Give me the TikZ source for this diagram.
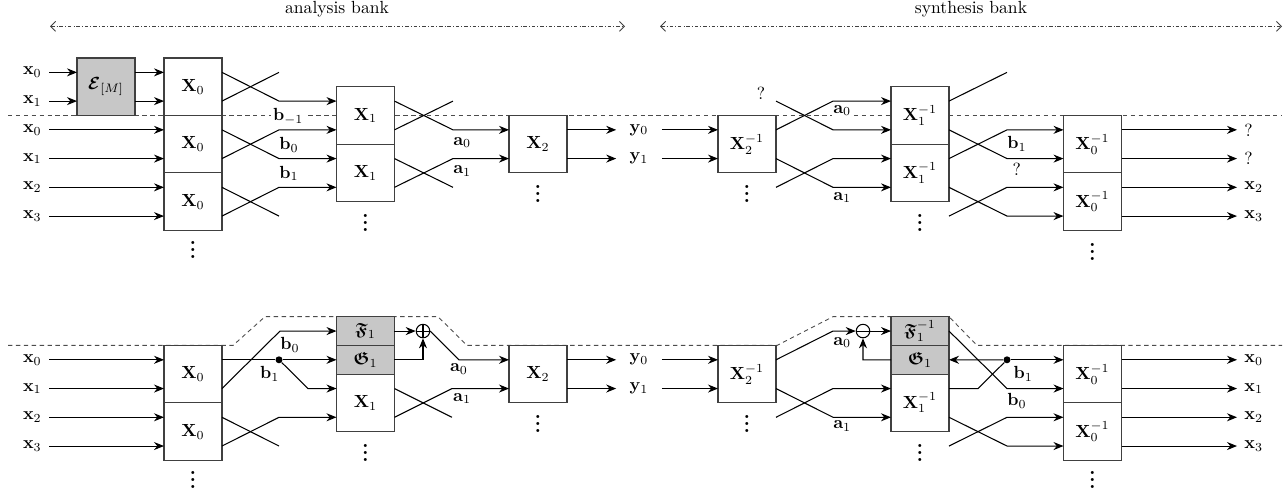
\documentclass[tikz,border=0pt]{standalone}
\usepackage{amsmath,amssymb,bm}
\usetikzlibrary{arrows.meta,positioning}
\tikzset{
  blk/.style={draw=black!75, fill=white, line width=0.6pt, minimum width=1.16cm,
              minimum height=1.15cm, inner sep=0pt, outer sep=0pt},
  gblk/.style={blk, fill=black!22},
  hblk/.style={gblk, minimum height=0.575cm},
  flow/.style={-{Stealth[length=2mm,width=1.6mm]}, line width=0.6pt},
  wire/.style={line width=0.6pt},
  io/.style={inner xsep=4pt, inner ysep=1pt},
  yio/.style={inner xsep=7.5pt, inner ysep=1pt},
  tag/.style={fill=white, inner sep=1pt},
  more/.style={inner sep=0pt, font=\large\bfseries},
  splitdot/.style={circle, fill, minimum size=0.14cm, inner sep=0pt},
  addn/.style={circle, draw, line width=0.6pt, fill=white, minimum size=0.27cm, inner sep=0pt,
               path picture={\draw[line width=0.6pt] (path picture bounding box.north) -- (path picture bounding box.south)
                             (path picture bounding box.west) -- (path picture bounding box.east);}},
  subn/.style={circle, draw, line width=0.6pt, fill=white, minimum size=0.27cm, inner sep=0pt,
               path picture={\draw[line width=0.6pt] (path picture bounding box.west) -- (path picture bounding box.east);}},
  sepline/.style={line width=0.5pt, black!70, dash pattern=on 2.5pt off 2pt},
  bank/.style={{Straight Barb[length=1mm,width=2mm]}-{Straight Barb[length=1mm,width=2mm]}, line width=0.5pt,
               black!75, dash pattern=on 2pt off 1.2pt on 0.4pt off 1.2pt},
}
\begin{document}
\begin{tikzpicture}[x=0.02cm, y=-0.575cm]
  \useasboundingbox (0,-2.5174) rectangle (1288,14.7696);

  % headers
  \node (ana) at (337,-2.18) {analysis bank};
  \node (syn) at (971,-2.18) {synthesis bank};
  \coordinate (ha0) at (50,-1.6); \coordinate (ha1) at (625,-1.6);
  \coordinate (hs0) at (660,-1.6); \coordinate (hs1) at (1282,-1.6);
  \draw[bank] (ha0) -- (ha1);
  \draw[bank] (hs0) -- (hs1);

  % block boundaries
  \draw[sepline] (8,1.5) -- (1282,1.5);
  \draw[sepline] (8,9.5) -- (233,9.5) -- (265,8.5) -- (438,8.5) -- (467,9.5) -- (777,9.5)
                 -- (833,8.5) -- (949,8.5) -- (977,9.5) -- (1282,9.5);

  % ---- analysis, plain ----
  \node[gblk] (enc) at (106,0.5) {$\bm{\mathcal{E}}_{[M]}$};
  \node[blk] (ta0) at (193,0.5) {$\mathbf{X}_0$};
  \node[blk, below=0pt of ta0] (ta1) {$\mathbf{X}_0$};
  \node[blk, below=0pt of ta1] (ta2) {$\mathbf{X}_0$};
  \node[blk] (tb0) at (365.5,1.5) {$\mathbf{X}_1$};
  \node[blk, below=0pt of tb0] (tb1) {$\mathbf{X}_1$};
  \node[blk] (tc0) at (538,2.5) {$\mathbf{X}_2$};
  \node[more, below=0pt of ta2] (dta) {\vdots};
  \node[more, below=1pt of tb1] (dtb) {\vdots};
  \node[more, below=1pt of tc0] (dtc) {\vdots};

  \node[io, anchor=east] (ie0) at (49,0) {$\mathbf{x}_0$};
  \node[io, anchor=east] (ie1) at (49,1) {$\mathbf{x}_1$};
  \node[io, anchor=east] (ix0) at (49,2) {$\mathbf{x}_0$};
  \node[io, anchor=east] (ix1) at (49,3) {$\mathbf{x}_1$};
  \node[io, anchor=east] (ix2) at (49,4) {$\mathbf{x}_2$};
  \node[io, anchor=east] (ix3) at (49,5) {$\mathbf{x}_3$};
  \node[yio] (oy0) at (639,2) {$\mathbf{y}_0$};
  \node[yio] (oy1) at (639,3) {$\mathbf{y}_1$};

  \draw[flow] (ie0) -- (enc.west |- ie0);
  \draw[flow] (ie1) -- (enc.west |- ie1);
  \draw[flow] (enc.east |- ie0) -- (ta0.west |- ie0);
  \draw[flow] (enc.east |- ie1) -- (ta0.west |- ie1);
  \draw[flow] (ix0) -- (ta1.west |- ix0);
  \draw[flow] (ix1) -- (ta1.west |- ix1);
  \draw[flow] (ix2) -- (ta2.west |- ix2);
  \draw[flow] (ix3) -- (ta2.west |- ix3);

  \coordinate (u0) at (279,0); \coordinate (u1) at (279,1); \coordinate (u2) at (279,2);
  \coordinate (u3) at (279,3); \coordinate (u4) at (279,4); \coordinate (u5) at (279,5);
  \draw[flow] (ta0.east |- u0) -- (u1) -- (tb0.west |- u1);
  \draw[wire] (ta0.east |- u1) -- (u0);
  \draw[flow] (ta1.east |- u2) -- (u3) -- (tb1.west |- u3);
  \draw[flow] (ta1.east |- u3) -- (u2) -- (tb0.west |- u2);
  \draw[wire] (ta2.east |- u4) -- (u5);
  \draw[flow] (ta2.east |- u5) -- (u4) -- (tb1.west |- u4);
  \node[tag, below right=3pt and -4.5pt of u1] (lbm) {$\mathbf{b}_{-1}$};
  \node[tag, below right=3pt and -1pt of u2] (lb0) {$\mathbf{b}_0$};
  \node[tag, below right=3pt and -1pt of u3] (lb1) {$\mathbf{b}_1$};

  \coordinate (v1) at (453,1); \coordinate (v2) at (453,2);
  \coordinate (v3) at (453,3); \coordinate (v4) at (453,4);
  \draw[flow] (tb0.east |- v1) -- (v2) -- (tc0.west |- v2);
  \draw[wire] (tb0.east |- v2) -- (v1);
  \draw[wire] (tb1.east |- v3) -- (v4);
  \draw[flow] (tb1.east |- v4) -- (v3) -- (tc0.west |- v3);
  \node[tag, below right=3pt and -1pt of v2] (la0) {$\mathbf{a}_0$};
  \node[tag, below right=3pt and -1pt of v3] (la1) {$\mathbf{a}_1$};
  \draw[flow] (tc0.east |- oy0) -- (oy0);
  \draw[flow] (tc0.east |- oy1) -- (oy1);

  % ---- synthesis, plain ----
  \node[blk] (sa) at (747,2.5) {$\mathbf{X}_2^{-1}$};
  \node[blk] (sb0) at (920,1.5) {$\mathbf{X}_1^{-1}$};
  \node[blk, below=0pt of sb0] (sb1) {$\mathbf{X}_1^{-1}$};
  \node[blk] (sc0) at (1092.5,2.5) {$\mathbf{X}_0^{-1}$};
  \node[blk, below=0pt of sc0] (sc1) {$\mathbf{X}_0^{-1}$};
  \node[more, below=1pt of sa] (dsa) {\vdots};
  \node[more, below=1pt of sb1] (dsb) {\vdots};
  \node[more, below=1pt of sc1] (dsc) {\vdots};
  \node[io, anchor=west] (oq0) at (1237,2) {?};
  \node[io, anchor=west] (oq1) at (1237,3) {?};
  \node[io, anchor=west] (ox2) at (1237,4) {$\mathbf{x}_2$};
  \node[io, anchor=west] (ox3) at (1237,5) {$\mathbf{x}_3$};

  \draw[flow] (oy0) -- (sa.west |- oy0);
  \draw[flow] (oy1) -- (sa.west |- oy1);
  \coordinate (q1) at (776,1); \coordinate (q4) at (776,4);
  \coordinate (w1) at (833,1); \coordinate (w2) at (833,2);
  \coordinate (w3) at (833,3); \coordinate (w4) at (833,4);
  \draw[flow] (sa.east |- w2) -- (w1) -- (sb0.west |- w1);
  \draw[flow] (q1) -- (w2) -- (sb0.west |- w2);
  \draw[flow] (sa.east |- w3) -- (w4) -- (sb1.west |- w4);
  \draw[flow] (q4) -- (w3) -- (sb1.west |- w3);
  \node[tag, above left=-0.5pt and 5pt of q1] (lq) {?};
  \node[tag, below right=1.2pt and -1pt of w1] (ls0) {$\mathbf{a}_0$};
  \node[tag, below right=1.7pt and -1pt of w4] (ls1) {$\mathbf{a}_1$};

  \coordinate (r5) at (949,5);
  \coordinate (z0) at (1007,0); \coordinate (z2) at (1007,2); \coordinate (z3) at (1007,3);
  \coordinate (z4) at (1007,4); \coordinate (z5) at (1007,5);
  \draw[wire] (sb0.east |- w1) -- (z0);
  \draw[flow] (sb0.east |- w2) -- (z3) -- (sc0.west |- z3);
  \draw[flow] (sb1.east |- w3) -- (z2) -- (sc0.west |- z2);
  \draw[flow] (sb1.east |- w4) -- (z5) -- (sc1.west |- z5);
  \draw[flow] (r5) -- (z4) -- (sc1.west |- z4);
  \node[tag, below right=2.5pt and -1pt of z2] (lsb) {$\mathbf{b}_1$};
  \node[tag, below right=1.5pt and 2pt of z3] (lsq) {?};
  \draw[flow] (sc0.east |- oq0) -- (oq0);
  \draw[flow] (sc0.east |- oq1) -- (oq1);
  \draw[flow] (sc1.east |- ox2) -- (ox2);
  \draw[flow] (sc1.east |- ox3) -- (ox3);

  % ---- analysis, lifting ----
  \node[blk] (ba0) at (193,10.5) {$\mathbf{X}_0$};
  \node[blk, below=0pt of ba0] (ba1) {$\mathbf{X}_0$};
  \node[hblk] (bf) at (365.5,9) {$\bm{\mathfrak{F}}_1$};
  \node[hblk, below=0pt of bf] (bg) {$\bm{\mathfrak{G}}_1$};
  \node[blk, below=0pt of bg] (bx) {$\mathbf{X}_1$};
  \node[addn] (add) at (423,9) {};
  \node[blk] (bc) at (538,10.5) {$\mathbf{X}_2$};
  \node[more, below=0pt of ba1] (dba) {\vdots};
  \node[more, below=1pt of bx] (dbb) {\vdots};
  \node[more, below=1pt of bc] (dbc) {\vdots};
  \node[io, anchor=east] (jx0) at (49,10) {$\mathbf{x}_0$};
  \node[io, anchor=east] (jx1) at (49,11) {$\mathbf{x}_1$};
  \node[io, anchor=east] (jx2) at (49,12) {$\mathbf{x}_2$};
  \node[io, anchor=east] (jx3) at (49,13) {$\mathbf{x}_3$};
  \node[yio] (py0) at (639,10) {$\mathbf{y}_0$};
  \node[yio] (py1) at (639,11) {$\mathbf{y}_1$};

  \draw[flow] (jx0) -- (ba0.west |- jx0);
  \draw[flow] (jx1) -- (ba0.west |- jx1);
  \draw[flow] (jx2) -- (ba1.west |- jx2);
  \draw[flow] (jx3) -- (ba1.west |- jx3);

  \node[splitdot] (bd) at (279,10) {};
  \coordinate (m9) at (280,9); \coordinate (m11) at (308,11);
  \coordinate (m12) at (279,12); \coordinate (m13) at (279,13);
  \draw[wire] (ba0.east |- bd) -- (bd);
  \draw[flow] (bd) -- (bg.west |- bd);
  \draw[flow] (bd) -- (m11) -- (bx.west |- m11);
  \draw[flow] (ba0.east |- m11) -- (m9) -- (bf.west |- m9);
  \draw[wire] (ba1.east |- m12) -- (m13);
  \draw[flow] (ba1.east |- m13) -- (m12) -- (bx.west |- m12);
  \node[tag, below right=2.3pt and -1pt of m9] (lc0) {$\mathbf{b}_0$};
  \node[tag, below left=1pt and -2.9pt of bd] (lc1) {$\mathbf{b}_1$};

  \coordinate (n10) at (423,10); \coordinate (k10) at (459,10);
  \coordinate (k11) at (452,11); \coordinate (k12) at (452,12);
  \draw[flow] (bf) -- (add);
  \draw[flow] (bg.east |- n10) -- (n10) -- (add);
  \draw[flow] (add.east) -- (k10) -- (bc.west |- k10);
  \draw[wire] (bx.east |- k11) -- (k12);
  \draw[flow] (bx.east |- k12) -- (k11) -- (bc.west |- k11);
  \node[tag, below=1pt of k10] (lc2) {$\mathbf{a}_0$};
  \node[tag, below right=1.5pt and -0.5pt of k11] (lc3) {$\mathbf{a}_1$};
  \draw[flow] (bc.east |- py0) -- (py0);
  \draw[flow] (bc.east |- py1) -- (py1);

  % ---- synthesis, lifting ----
  \node[blk] (sx2) at (747,10.5) {$\mathbf{X}_2^{-1}$};
  \node[hblk] (sf) at (920,9) {$\bm{\mathfrak{F}}_1^{-1}$};
  \node[hblk, below=0pt of sf] (sg) {$\bm{\mathfrak{G}}_1$};
  \node[blk, below=0pt of sg] (sx1) {$\mathbf{X}_1^{-1}$};
  \node[subn] (sub) at (863,9) {};
  \node[splitdot] (sd) at (1007,10) {};
  \node[blk] (sx0a) at (1092.5,10.5) {$\mathbf{X}_0^{-1}$};
  \node[blk, below=0pt of sx0a] (sx0b) {$\mathbf{X}_0^{-1}$};
  \node[more, below=1pt of sx2] (dsx2) {\vdots};
  \node[more, below=1pt of sx1] (dsx1) {\vdots};
  \node[more, below=0pt of sx0b] (dsx0) {\vdots};
  \node[io, anchor=west] (kx0) at (1237,10) {$\mathbf{x}_0$};
  \node[io, anchor=west] (kx1) at (1237,11) {$\mathbf{x}_1$};
  \node[io, anchor=west] (kx2) at (1237,12) {$\mathbf{x}_2$};
  \node[io, anchor=west] (kx3) at (1237,13) {$\mathbf{x}_3$};

  \draw[flow] (py0) -- (sx2.west |- py0);
  \draw[flow] (py1) -- (sx2.west |- py1);
  \coordinate (s9) at (833,9); \coordinate (s10) at (863,10);
  \coordinate (s11) at (833,11); \coordinate (s12) at (833,12); \coordinate (t12) at (776,12);
  \draw[flow] (sx2.east |- py0) -- (s9) -- (sub);
  \draw[flow] (sub) -- (sf);
  \draw[flow] (sg.west) -- (s10) -- (sub);
  \draw[flow] (sx2.east |- py1) -- (s12) -- (sx1.west |- s12);
  \draw[flow] (t12) -- (s11) -- (sx1.west |- s11);
  \node[tag, below right=2.3pt and -1pt of s9] (ld0) {$\mathbf{a}_0$};
  \node[tag, below right=1pt and -1pt of s12] (ld1) {$\mathbf{a}_1$};

  \coordinate (g11) at (978,11); \coordinate (e11) at (1007,11);
  \coordinate (e12) at (1007,12); \coordinate (e13) at (1007,13); \coordinate (h13) at (949,13);
  \draw[flow] (sf.east) -- (e11) -- (sx0a.west |- e11);
  \draw[flow] (sd) -- (sg.east);
  \draw[flow] (sd) -- (sx0a.west |- sd);
  \draw[wire] (sx1.east |- g11) -- (g11) -- (sd);
  \draw[flow] (sx1.east |- e12) -- (e13) -- (sx0b.west |- e13);
  \draw[flow] (h13) -- (e12) -- (sx0b.west |- e12);
  \node[tag, below right=1pt and 1pt of sd] (ld2) {$\mathbf{b}_1$};
  \node[tag, below right=1.5pt and -1pt of e11] (ld3) {$\mathbf{b}_0$};
  \draw[flow] (sx0a.east |- kx0) -- (kx0);
  \draw[flow] (sx0a.east |- kx1) -- (kx1);
  \draw[flow] (sx0b.east |- kx2) -- (kx2);
  \draw[flow] (sx0b.east |- kx3) -- (kx3);
\end{tikzpicture}
\end{document}
